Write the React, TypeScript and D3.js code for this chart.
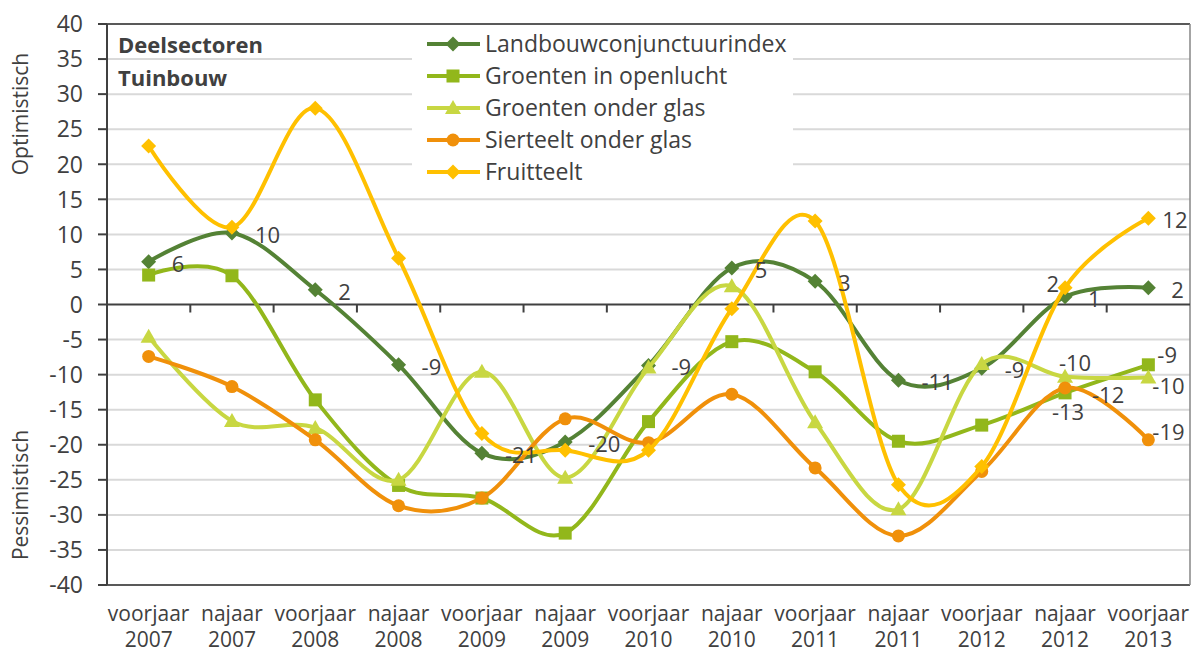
import React from "react";
import * as d3 from "d3";

const categories: string[][] = [
  ["voorjaar", "2007"], ["najaar", "2007"], ["voorjaar", "2008"], ["najaar", "2008"],
  ["voorjaar", "2009"], ["najaar", "2009"], ["voorjaar", "2010"], ["najaar", "2010"],
  ["voorjaar", "2011"], ["najaar", "2011"], ["voorjaar", "2012"], ["najaar", "2012"],
  ["voorjaar", "2013"],
];

const seriesNames = [
  "Landbouwconjunctuurindex",
  "Groenten in openlucht",
  "Groenten onder glas",
  "Sierteelt onder glas",
  "Fruitteelt",
];

const landbouw = [6.1, 10.2, 2.1, -8.6, -21.2, -19.6, -8.7, 5.2, 3.3, -10.8, -9.1, 1.1, 2.4];
const openlucht = [4.2, 4.1, -13.6, -25.8, -27.6, -32.6, -16.7, -5.3, -9.6, -19.5, -17.2, -12.6, -8.6];
const onderGlas = [-4.6, -16.6, -17.6, -25.0, -9.6, -24.7, -9.0, 2.6, -16.8, -29.2, -8.5, -10.3, -10.4];
const sierteelt = [-7.4, -11.7, -19.3, -28.7, -27.6, -16.3, -19.7, -12.8, -23.3, -33.0, -23.8, -11.9, -19.3];
const fruitteelt = [22.6, 11.0, 28.0, 6.6, -18.4, -20.8, -20.8, -0.6, 11.9, -25.7, -23.1, 2.4, 12.3];

const seriesValues = [landbouw, openlucht, onderGlas, sierteelt, fruitteelt];
const seriesColors = ["#548235", "#92b71b", "#c8d742", "#f0900a", "#ffc000"];
const seriesMarkers = ["diamond", "square", "triangle", "circle", "diamond"];

const yTicks = d3.range(-40, 41, 5);

// extra label placements: [series, index, dx, dy, anchor]
const extraLabels: [number, number, number, number, string][] = [
  [4, 11, -6, -4, "end"],
  [2, 11, 10, -14, "middle"],
  [1, 11, 3, 19, "middle"],
  [3, 11, 27, 7, "start"],
  [4, 12, 14, 2, "start"],
  [1, 12, 9, -10, "start"],
  [2, 12, 4, 9, "start"],
  [3, 12, 4, -8, "start"],
];

const FONT = "'Open Sans', 'Noto Sans', sans-serif";
const TEXT = "#404040";

function Marker({ type, x, y, color }: { type: string; x: number; y: number; color: string }) {
  if (type === "diamond") {
    const r = 7.5;
    return <path d={`M${x},${y - r}L${x + r},${y}L${x},${y + r}L${x - r},${y}Z`} fill={color} />;
  }
  if (type === "square") {
    const r = 6.5;
    return <rect x={x - r} y={y - r} width={2 * r} height={2 * r} fill={color} />;
  }
  if (type === "triangle") {
    const r = 8;
    return <path d={`M${x},${y - r}L${x + r},${y + r * 0.75}L${x - r},${y + r * 0.75}Z`} fill={color} />;
  }
  return <circle cx={x} cy={y} r={6.5} fill={color} />;
}

export default function App() {
  const W = 1193, H = 655;
  const left = 107, right = 1190, top = 24, bottom = 585;
  const x = d3.scaleBand<number>().domain(d3.range(categories.length)).range([left, right]);
  const y = d3.scaleLinear().domain([-40, 40]).range([bottom, top]);
  const cx = (i: number) => (x(i) as number) + x.bandwidth() / 2;
  const line = d3.line<number>().x((_, i) => cx(i)).y((v) => y(v)).curve(d3.curveCardinal.tension(0));

  return (
    <svg width={W} height={H} style={{ position: "absolute", left: 0, top: 0, fontFamily: FONT }}>
      <rect x={0} y={0} width={W} height={H} fill="#fff" />
      {/* gridlines */}
      {yTicks.filter((t) => t !== 0 && t !== 40 && t !== -40).map((t) => (
        <line key={t} x1={left} x2={right} y1={y(t)} y2={y(t)} stroke="#d9d9d9" strokeWidth={2} />
      ))}
      {/* legend background */}
      <rect x={412} y={26} width={381} height={164} fill="#fff" />
      {/* border */}
      <line x1={left} x2={right} y1={top} y2={top} stroke="#595959" strokeWidth={2} />
      <line x1={left} x2={right} y1={bottom} y2={bottom} stroke="#595959" strokeWidth={2} />
      <line x1={right} x2={right} y1={top} y2={bottom} stroke="#868686" strokeWidth={1.5} />
      <line x1={left} x2={left} y1={top} y2={bottom} stroke="#404040" strokeWidth={2} />
      {/* y ticks */}
      {yTicks.map((t) => (
        <g key={t}>
          <line x1={98} x2={left} y1={y(t)} y2={y(t)} stroke="#404040" strokeWidth={2} />
          <text x={83} y={y(t)} dy="0.36em" textAnchor="end" fontSize={23} fill={TEXT}>{t}</text>
        </g>
      ))}
      {/* x axis at zero */}
      <line x1={left} x2={right} y1={y(0)} y2={y(0)} stroke="#404040" strokeWidth={2} />
      {categories.slice(1).map((_, i) => (
        <line key={i} x1={x(i + 1)} x2={x(i + 1)} y1={y(0)} y2={y(0) + 8} stroke="#404040" strokeWidth={2} />
      ))}
      {categories.map((c, i) => (
        <g key={i}>
          <text x={cx(i)} y={621} textAnchor="middle" fontSize={21} fill={TEXT}>{c[0]}</text>
          <text x={cx(i)} y={647} textAnchor="middle" fontSize={21} fill={TEXT}>{c[1]}</text>
        </g>
      ))}
      {/* axis titles */}
      <text transform={`translate(28,114) rotate(-90)`} textAnchor="middle" fontSize={21} fill={TEXT}>Optimistisch</text>
      <text transform={`translate(28,495) rotate(-90)`} textAnchor="middle" fontSize={21} fill={TEXT}>Pessimistisch</text>
      {/* chart title */}
      <text x={118} y={53} fontSize={22} fontWeight="bold" fill={TEXT}>Deelsectoren</text>
      <text x={118} y={86} fontSize={22} fontWeight="bold" fill={TEXT}>Tuinbouw</text>
      {/* series */}
      {seriesValues.map((vals, s) => (
        <g key={s}>
          <path d={line(vals) || ""} fill="none" stroke={seriesColors[s]} strokeWidth={4} />
          {vals.map((v, i) => (
            <Marker key={i} type={seriesMarkers[s]} x={cx(i)} y={y(v)} color={seriesColors[s]} />
          ))}
        </g>
      ))}
      {/* data labels */}
      {landbouw.map((v, i) => (
        <text key={i} x={cx(i) + 23} y={y(v) + 2} dy="0.36em" fontSize={22} fill={TEXT}>{Math.round(v)}</text>
      ))}
      {extraLabels.map(([s, i, dx, dy, anchor], k) => (
        <text key={k} x={cx(i) + dx} y={y(seriesValues[s][i]) + dy} dy="0.36em" textAnchor={anchor} fontSize={22} fill={TEXT}>
          {Math.round(seriesValues[s][i])}
        </text>
      ))}
      {/* legend */}
      {seriesNames.map((n, s) => {
        const ly = 44 + s * 32;
        return (
          <g key={s}>
            <line x1={427} x2={480} y1={ly} y2={ly} stroke={seriesColors[s]} strokeWidth={4} />
            <Marker type={seriesMarkers[s]} x={453} y={ly} color={seriesColors[s]} />
            <text x={485} y={ly} dy="0.36em" fontSize={23} fill={TEXT}>{n}</text>
          </g>
        );
      })}
    </svg>
  );
}
